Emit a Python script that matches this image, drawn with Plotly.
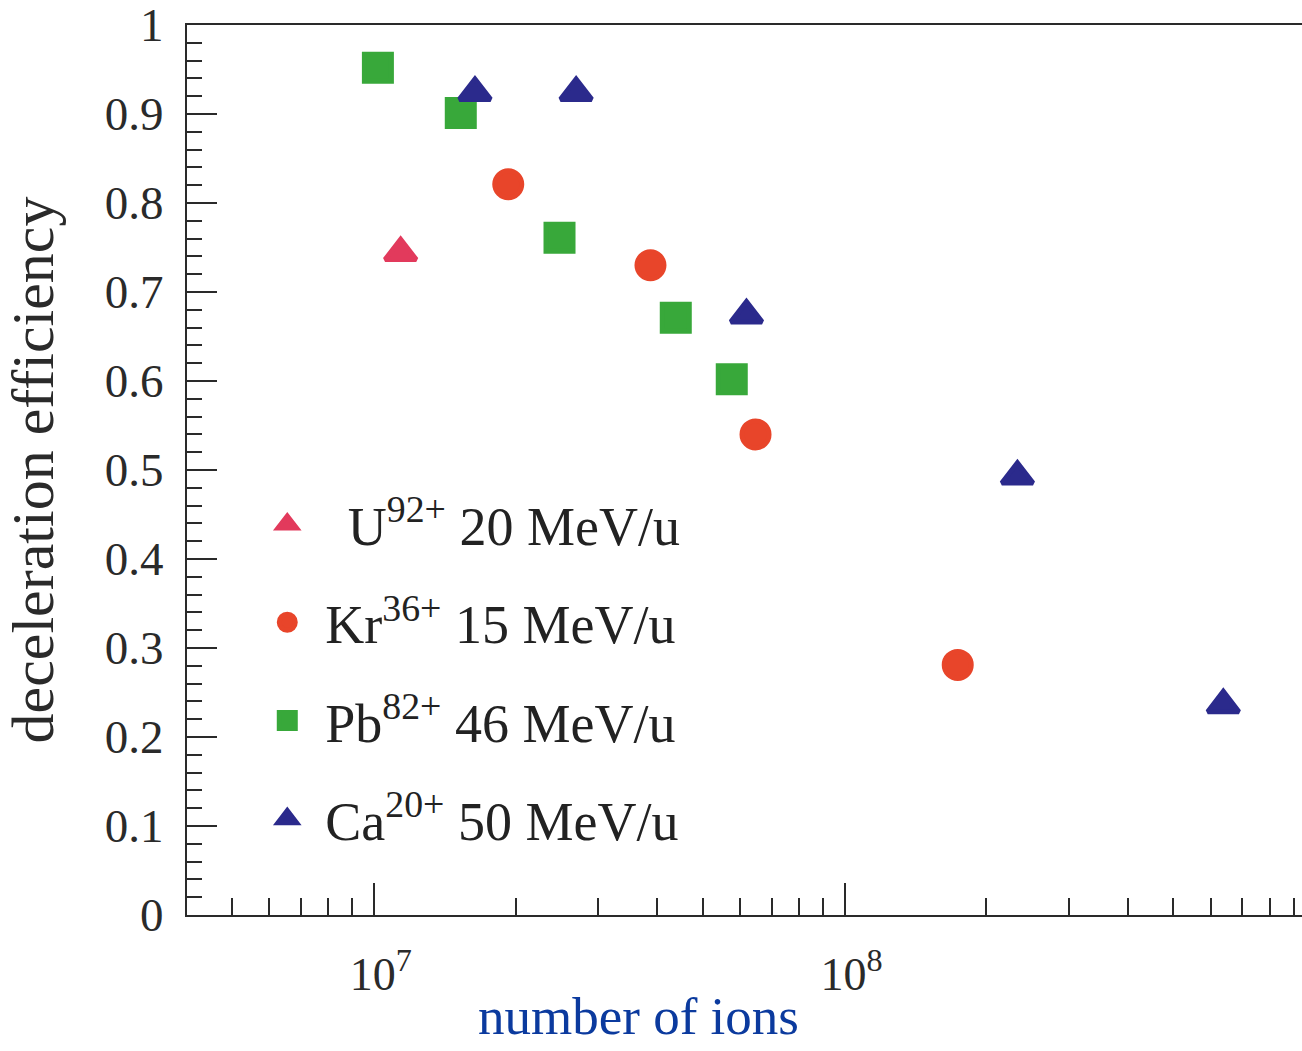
import plotly.graph_objects as go

# ---- data ----
u_x = [1.14e7]
u_y = [0.744]

kr_x = [1.93e7, 3.87e7, 6.47e7, 1.74e8]
kr_y = [0.821, 0.730, 0.540, 0.281]

pb_x = [1.02e7, 1.53e7, 2.48e7, 4.38e7, 5.76e7]
pb_y = [0.952, 0.901, 0.761, 0.671, 0.602]

ca_x = [1.64e7, 2.69e7, 6.19e7, 2.33e8, 6.38e8]
ca_y = [0.924, 0.924, 0.674, 0.493, 0.236]

series_names = [
    "\u00a0\u00a0\u00a0U<sup>92+</sup> 20 MeV/u",
    "\u2004Kr<sup>36+</sup> 15 MeV/u",
    "\u2004Pb<sup>82+</sup> 46 MeV/u",
    "\u2004Ca<sup>20+</sup> 50 MeV/u",
]

x_major = [1e7, 1e8]
x_major_text = ["10<sup>7</sup>", "10<sup>8</sup>"]
x_minor = [m * 10 ** e for e in (6, 7, 8) for m in range(2, 10) if 4e6 < m * 10 ** e < 9.5e8]

y_ticks = [0, 0.1, 0.2, 0.3, 0.4, 0.5, 0.6, 0.7, 0.8, 0.9, 1.0]
y_tick_text = ["0", "0.1", "0.2", "0.3", "0.4", "0.5", "0.6", "0.7", "0.8", "0.9", "1"]

FONT = "Liberation Serif, Times New Roman, serif"
AX = "#2a2a2a"

styles = [
    (u_x, u_y, "triangle-up", "#e23a5c", 27),
    (kr_x, kr_y, "circle", "#e8452a", 27),
    (pb_x, pb_y, "square", "#38a83a", 27),
    (ca_x, ca_y, "triangle-up", "#2b2a8c", 27),
]

fig = go.Figure()
for i, ((xs, ys, sym, col, sz), name) in enumerate(zip(styles, series_names)):
    fig.add_trace(go.Scatter(
        x=xs, y=ys, mode="markers", name=name, legendgroup=f"g{i}",
        marker=dict(symbol=sym, size=sz, color=col, line=dict(color=col, width=5)),
    ))

fig.update_layout(
    width=1302, height=1051,
    margin=dict(l=187, r=0, t=25, b=136, autoexpand=False),
    paper_bgcolor="white", plot_bgcolor="white",
    font=dict(family=FONT, color=AX),
    showlegend=True,
    legend=dict(
        x=0.072, y=0.486, xanchor="left", yanchor="top",
        bgcolor="rgba(0,0,0,0)", font=dict(size=54, family=FONT, color="#222222"),
        tracegroupgap=25, itemsizing="trace",
    ),
    xaxis=dict(
        type="log", range=[6.603, 8.972], automargin=False,
        showline=True, linecolor=AX, linewidth=2, mirror=True,
        showgrid=False, zeroline=False,
        tickmode="array", tickvals=x_major, ticktext=x_major_text,
        ticks="inside", ticklen=32, tickwidth=1.5, tickcolor=AX,
        ticklabelstandoff=18, ticklabelshift=7,
        tickfont=dict(size=46, family=FONT, color=AX),
        minor=dict(tickmode="array", tickvals=x_minor, ticks="inside",
                   ticklen=17, tickwidth=1.5, tickcolor=AX, showgrid=False),
    ),
    yaxis=dict(
        range=[0, 1], automargin=False,
        showline=True, linecolor=AX, linewidth=2, mirror=False,
        showgrid=False, zeroline=False,
        tickmode="array", tickvals=y_ticks, ticktext=y_tick_text,
        ticks="inside", ticklen=30, tickwidth=1.5, tickcolor=AX,
        ticklabelstandoff=12, ticklabeloverflow="allow",
        tickfont=dict(size=47, family=FONT, color=AX),
        minor=dict(dtick=0.02, tick0=0, ticks="inside", ticklen=15, tickwidth=1.5,
                   tickcolor=AX, showgrid=False),
        title=dict(text="deceleration efficiency", standoff=39,
                   font=dict(size=60, family=FONT, color="#2a2a2a")),
    ),
)

fig.add_annotation(
    text="number of ions", xref="paper", yref="paper",
    x=(638 - 187) / 1115, y=(915 - 1016) / 890,
    xanchor="center", yanchor="middle", showarrow=False,
    font=dict(size=53, family=FONT, color="#0b3a9e"),
)

fig.write_html("out.html", config={"displayModeBar": False},
               post_script="document.body.style.margin='0px';")
